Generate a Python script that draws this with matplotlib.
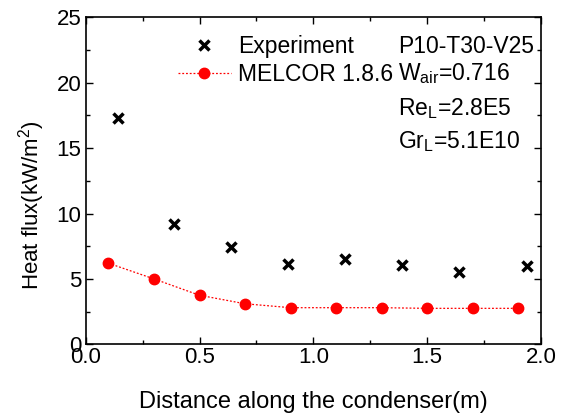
import matplotlib
matplotlib.use("Agg")
import matplotlib.pyplot as plt
from matplotlib.ticker import MultipleLocator, FormatStrFormatter
from matplotlib.lines import Line2D

plt.rcParams['font.family'] = ['Liberation Sans', 'DejaVu Sans']
plt.rcParams['mathtext.fontset'] = 'custom'
plt.rcParams['mathtext.rm'] = 'Liberation Sans'
plt.rcParams['mathtext.it'] = 'Liberation Sans'

exp_x = [0.14, 0.39, 0.64, 0.89, 1.14, 1.39, 1.64, 1.94]
exp_y = [17.3, 9.2, 7.45, 6.15, 6.5, 6.05, 5.55, 5.95]
mel_x = [0.1, 0.3, 0.5, 0.7, 0.9, 1.1, 1.3, 1.5, 1.7, 1.9]
mel_y = [6.2, 5.0, 3.75, 3.1, 2.8, 2.8, 2.8, 2.75, 2.75, 2.75]

fig = plt.figure(figsize=(5.66, 4.17), dpi=100)
ax = fig.add_axes([0.1514, 0.1743, 0.9558 - 0.1514, 0.9585 - 0.1743])

ax.plot(exp_x, exp_y, linestyle='none', marker='x', color='black',
        markersize=7, markeredgewidth=2.5)
ax.plot(mel_x, mel_y, linestyle=(0, (1.5, 1.5)), color='red', linewidth=0.9,
        marker='o', markersize=7.5, markerfacecolor='red', markeredgecolor='red')

ax.set_xlim(0, 2.0)
ax.set_ylim(0, 25)
ax.xaxis.set_major_locator(MultipleLocator(0.5))
ax.xaxis.set_minor_locator(MultipleLocator(0.25))
ax.yaxis.set_major_locator(MultipleLocator(5))
ax.yaxis.set_minor_locator(MultipleLocator(2.5))
ax.xaxis.set_major_formatter(FormatStrFormatter('%.1f'))
ax.tick_params(which='both', direction='in', top=True, right=True,
               labelsize=16, width=1.0)
ax.tick_params(which='major', length=5)
ax.tick_params(which='minor', length=3)
ax.tick_params(axis='x', which='major', pad=2)
ax.tick_params(axis='y', which='major', pad=3)
for s in ax.spines.values():
    s.set_linewidth(1.2)

ax.set_xlabel('Distance along the condenser(m)', fontsize=17)
ax.xaxis.set_label_coords(0.5, -0.143)
ax.set_ylabel('Heat flux(kW/m$^{2}$)', fontsize=16)
ax.yaxis.set_label_coords(-0.085, 0.425)

handles = [
    Line2D([], [], linestyle='none', marker='x', color='black',
           markersize=7, markeredgewidth=2.5),
    Line2D([], [], linestyle=(0, (1.5, 1.5)), color='red', linewidth=0.9,
           marker='o', markersize=7.5, markerfacecolor='red', markeredgecolor='red'),
]
leg = ax.legend(handles, ['Experiment', 'MELCOR 1.8.6'], loc='upper left',
                bbox_to_anchor=(0.203, 0.945), frameon=False, fontsize=16.5,
                handlelength=2.3, handletextpad=0.3, labelspacing=0.2,
                borderaxespad=0, borderpad=0)

tx = 0.687
fs = 16.5
ax.text(tx, 0.890, 'P10-T30-V25', transform=ax.transAxes, fontsize=fs, va='baseline')
ax.text(tx, 0.808, r'W$_{\mathrm{air}}$=0.716', transform=ax.transAxes, fontsize=fs, va='baseline')
ax.text(tx, 0.701, r'Re$_{\mathrm{L}}$=2.8E5', transform=ax.transAxes, fontsize=fs, va='baseline')
ax.text(tx, 0.599, r'Gr$_{\mathrm{L}}$=5.1E10', transform=ax.transAxes, fontsize=fs, va='baseline')

fig.savefig('out.png', dpi=100)
